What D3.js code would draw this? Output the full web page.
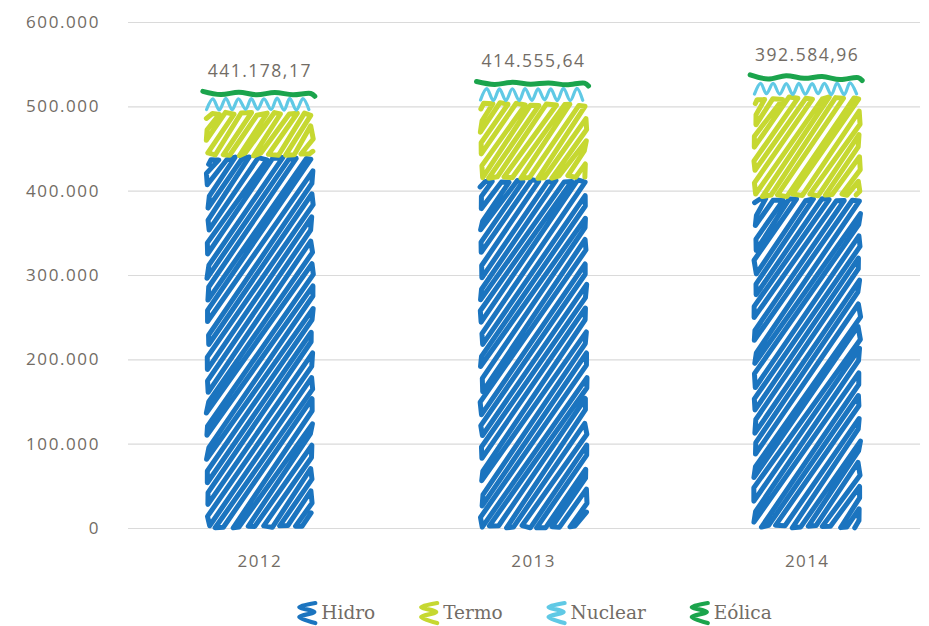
<!DOCTYPE html>
<html>
<head>
<meta charset="utf-8">
<script src="https://cdn.jsdelivr.net/npm/d3@7"></script>
<style>
  body { margin: 0; background: #fff; }
  text { font-family: "Open Sans", sans-serif; fill: #726c65; }
</style>
</head>
<body>
<script>
// dados (GWh)
const years = ["2012", "2013", "2014"];
const series = ["Hidro", "Termo", "Nuclear", "Eólica"];
const hidro = [441178.17, 414555.64, 392584.96];
const termo = [53000, 91000, 120000];
const nuclear = [17000, 17500, 16500];
const eolica = [8000, 8500, 9500];
const yTicks = [0, 100000, 200000, 300000, 400000, 500000, 600000];
const colors = ["#1b74bf", "#c6d831", "#60c9e5", "#1ba44c"];

const width = 929, height = 626;
const margin = { top: 22, right: 9, bottom: 98, left: 128 };

const br = d3.formatLocale({ decimal: ",", thousands: ".", grouping: [3], currency: ["R$", ""] });
const fmtTick = br.format(",.0f");
const fmtVal = br.format(",.2f");

const rows = years.map((yr, i) => ({
  year: yr, Hidro: hidro[i], Termo: termo[i], Nuclear: nuclear[i], "Eólica": eolica[i]
}));
const stacked = d3.stack().keys(series)(rows);

const x = d3.scaleBand()
  .domain(years)
  .range([123, 944])
  .paddingInner(0.598)
  .paddingOuter(0.299);

const y = d3.scaleLinear()
  .domain([0, 600000])
  .range([height - margin.bottom, margin.top]);

const svg = d3.select("body").append("svg")
  .attr("width", width)
  .attr("height", height);

// grade
svg.append("g")
  .attr("transform", `translate(${margin.left},0)`)
  .call(d3.axisRight(y).tickValues(yTicks).tickSize(width - margin.left - margin.right).tickFormat(""))
  .call(g => g.select(".domain").remove())
  .call(g => g.selectAll("line").attr("stroke", "#dadada").attr("stroke-width", 1.2));

// eixo y
svg.append("g")
  .attr("transform", "translate(100,0)")
  .call(d3.axisLeft(y).tickValues(yTicks).tickSize(0).tickPadding(0).tickFormat(fmtTick))
  .call(g => g.select(".domain").remove())
  .call(g => g.selectAll("text")
    .style("font-size", "17px").style("letter-spacing", "1.6px").attr("fill", "#726c65"));

// eixo x
svg.append("g")
  .attr("transform", `translate(0,${y(0)})`)
  .call(d3.axisBottom(x).tickSize(0).tickPadding(27))
  .call(g => g.select(".domain").remove())
  .call(g => g.selectAll("text")
    .style("font-size", "17px").style("letter-spacing", "1.4px").attr("fill", "#726c65"));

// traço "à mão"
const scribble = d3.line().curve(d3.curveCatmullRom.alpha(0.5));
const straight = d3.line();

function hachure(x0, y0, w, h, gap, k, rnd) {
  const pts = [];
  const j = () => (rnd() - 0.5) * 3;
  let n = 0;
  for (let c = y0 + gap * 0.4; c < y0 + h + k * w; c += gap) {
    const xl = Math.max(x0, x0 + (c - (y0 + h)) / k);
    const xr = Math.min(x0 + w, x0 + (c - y0) / k);
    if (xr - xl < 1.5) continue;
    const a = [xl + j(), c - k * (xl - x0) + j()];
    const b = [xr + j(), c - k * (xr - x0) + j()];
    if (n % 2 === 0) pts.push(a, b); else pts.push(b, a);
    n++;
  }
  return pts;
}

function zigzag(x0, y0, w, h, step, rnd) {
  const pts = [];
  let n = 0;
  for (let xx = x0; xx <= x0 + w + 0.1; xx += step) {
    pts.push([xx + (rnd() - 0.5), (n % 2 === 0 ? y0 + h : y0) + (rnd() - 0.5)]);
    n++;
  }
  return pts;
}

function wavy(x0, yc, w, rnd) {
  const pts = [];
  const step = 18;
  let n = 0;
  for (let xx = x0 - 2; xx <= x0 + w + 0.1; xx += step) {
    pts.push([xx, yc + (n % 2 === 0 ? -1.2 : 1.2) + (rnd() - 0.5) * 1.5 + (xx - x0) * 0.02]);
    n++;
  }
  pts.push([x0 + w, yc + 1.5 + w * 0.02]);
  return pts;
}

const bars = svg.append("g");
stacked.forEach((layer, li) => {
  layer.forEach((d, bi) => {
    const rnd = d3.randomLcg(0.13 * (li + 1) + 0.071 * (bi + 1));
    const x0 = x(years[bi]);
    const w = x.bandwidth();
    const yTop = y(d[1]);
    const h = y(d[0]) - y(d[1]);
    let pts, sw, line = scribble;
    if (li < 2) {
      pts = hachure(x0 + 3, yTop + 2.5, w - 6, h - 4, 11.4, 1.45, rnd);
      sw = 5;
      line = straight;
    } else if (li === 2) {
      pts = zigzag(x0 + 2, yTop + 1.5, w - 4, h - 3, 6.4, rnd);
      sw = 3.2;
    } else {
      pts = wavy(x0, yTop + h / 2 - 1, w, rnd);
      sw = 5;
    }
    bars.append("path")
      .attr("d", line(pts))
      .attr("fill", "none")
      .attr("stroke", colors[li])
      .attr("stroke-width", sw)
      .attr("stroke-linecap", "round")
      .attr("stroke-linejoin", "round");
  });
});

// rótulos de valor (Hidro)
svg.append("g").selectAll("text")
  .data(rows)
  .join("text")
  .attr("x", d => x(d.year) + x.bandwidth() / 2)
  .attr("y", (d, i) => y(stacked[stacked.length - 1][i][1]) - 13)
  .attr("text-anchor", "middle")
  .style("font-size", "17.5px")
  .style("letter-spacing", "1.5px")
  .text(d => fmtVal(d.Hidro));

// legenda
const legend = svg.append("g").attr("transform", `translate(0,613)`);
const iconPts = [[9, -10], [-7, -6], [8, -1], [-7, 4], [9, 10]];
let lx = 0;
series.forEach((s, i) => {
  const g = legend.append("g");
  g.append("path")
    .attr("d", scribble(iconPts))
    .attr("transform", "translate(11,0)")
    .attr("fill", "none")
    .attr("stroke", colors[i])
    .attr("stroke-width", 4.2)
    .attr("stroke-linecap", "round");
  const t = g.append("text")
    .attr("x", 26)
    .attr("dy", "0.35em")
    .style("font-family", "'DejaVu Serif', serif")
    .style("font-size", "18.5px")
    .text(s);
  const tw = t.node().getComputedTextLength();
  g.attr("transform", `translate(${lx},0)`);
  lx += 26 + tw + 42;
});
const totalW = lx - 42;
const cx = (x(years[0]) + x(years[2]) + x.bandwidth()) / 2;
legend.attr("transform", `translate(${cx - totalW / 2},613)`);
</script>
</body>
</html>
